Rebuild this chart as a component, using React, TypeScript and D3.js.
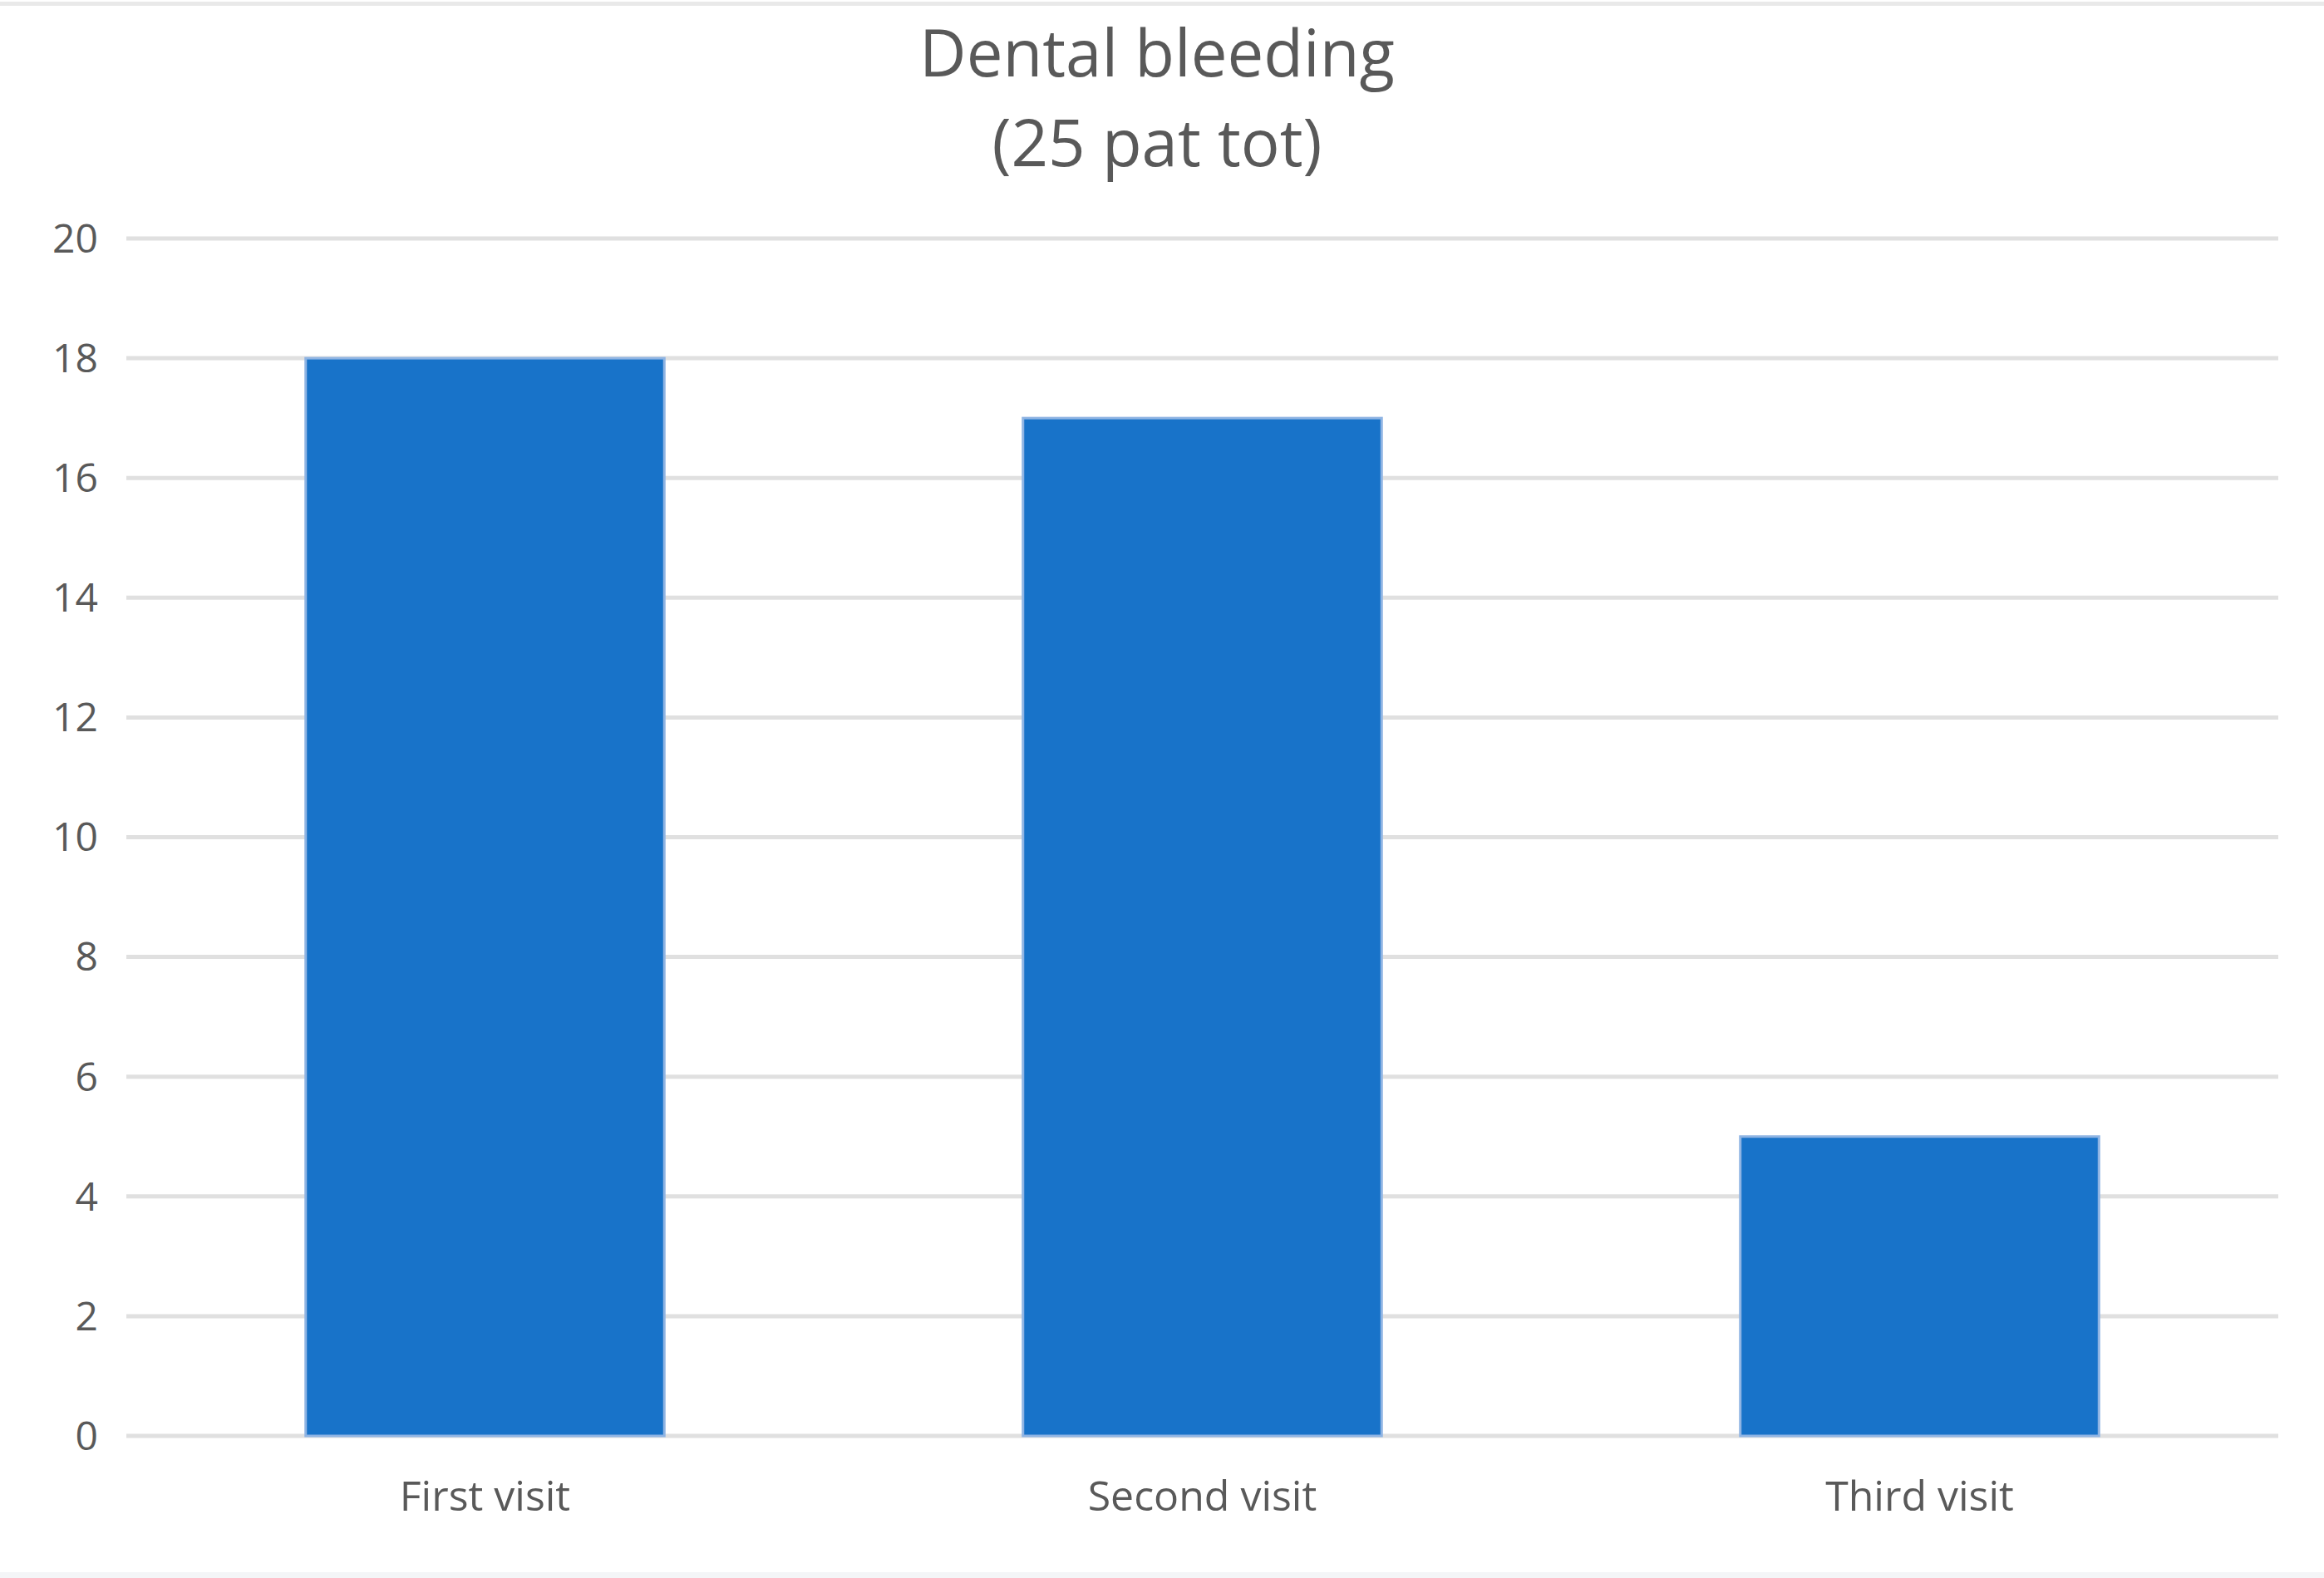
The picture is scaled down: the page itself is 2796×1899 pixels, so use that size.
import React, {useEffect, useRef} from 'react'
import * as d3 from 'd3'

const W = 2796
const H = 1899

// chart data
const categories = ['First visit', 'Second visit', 'Third visit']
const patients = [18, 17, 5]
const yTicks = [0, 2, 4, 6, 8, 10, 12, 14, 16, 18, 20]
const titleLines = ['Dental bleeding', '(25 pat tot)']

const margin = {top: 287, right: 55, bottom: 171, left: 152}
const font = '"Open Sans", sans-serif'
const textColor = '#595959'

export default function App() {
  const ref = useRef<SVGSVGElement | null>(null)

  useEffect(() => {
    const svg = d3.select(ref.current)
    svg.selectAll('*').remove()

    const innerW = W - margin.left - margin.right
    const innerH = H - margin.top - margin.bottom

    svg.append('rect').attr('width', W).attr('height', H).attr('fill', 'white')

    // faint frame at top and bottom
    svg.append('rect').attr('x', 0).attr('y', 2).attr('width', W).attr('height', 5).attr('fill', '#e9e9e9')
    svg.append('rect').attr('x', 0).attr('y', 1892).attr('width', W).attr('height', 7).attr('fill', '#f4f5f7')

    const x = d3.scaleBand<string>()
      .domain(categories)
      .range([0, innerW])
      .paddingInner(0.5)
      .paddingOuter(0.25)

    const y = d3.scaleLinear().domain([0, 20]).range([innerH, 0])

    const g = svg.append('g').attr('transform', `translate(${margin.left},${margin.top})`)

    // gridlines
    g.selectAll('line.grid')
      .data(yTicks)
      .enter()
      .append('line')
      .attr('class', 'grid')
      .attr('x1', 0)
      .attr('x2', innerW)
      .attr('y1', d => y(d))
      .attr('y2', d => y(d))
      .attr('stroke', '#e0e0e0')
      .attr('stroke-width', 5)

    // tick labels
    g.selectAll('text.ytick')
      .data(yTicks)
      .enter()
      .append('text')
      .attr('class', 'ytick')
      .attr('x', -34)
      .attr('y', d => y(d))
      .attr('dy', '0.35em')
      .attr('text-anchor', 'end')
      .attr('font-family', font)
      .attr('font-size', 48)
      .attr('fill', textColor)
      .text(d => d)

    // bars
    g.selectAll('rect.bar')
      .data(patients)
      .enter()
      .append('rect')
      .attr('class', 'bar')
      .attr('x', (d, i) => x(categories[i])!)
      .attr('y', d => y(d))
      .attr('width', x.bandwidth())
      .attr('height', d => innerH - y(d))
      .attr('fill', '#1873c9')
      .attr('stroke', '#8fb4e3')
      .attr('stroke-width', 3)

    // category labels
    g.selectAll('text.xlab')
      .data(categories)
      .enter()
      .append('text')
      .attr('class', 'xlab')
      .attr('x', d => x(d)! + x.bandwidth() / 2)
      .attr('y', innerH + 90)
      .attr('text-anchor', 'middle')
      .attr('font-family', font)
      .attr('font-size', 50)
      .attr('fill', textColor)
      .text(d => d)

    // title
    svg.selectAll('text.title')
      .data(titleLines)
      .enter()
      .append('text')
      .attr('class', 'title')
      .attr('x', 1392)
      .attr('y', (d, i) => 92 + i * 108)
      .attr('text-anchor', 'middle')
      .attr('font-family', font)
      .attr('font-size', 78)
      .attr('fill', textColor)
      .text(d => d)
  }, [])

  return (
    <svg
      ref={ref}
      width={W}
      height={H}
      style={{position: 'absolute', left: 0, top: 0, display: 'block'}}
    />
  )
}
